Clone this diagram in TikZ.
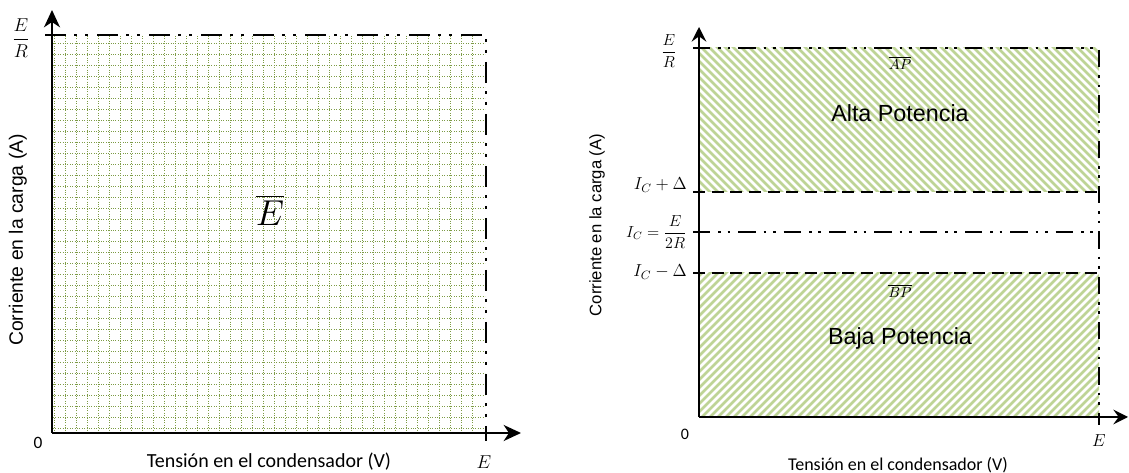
\RequirePackage{fix-cm}
\documentclass[tikz,border=0pt]{standalone}
\usepackage{amsmath}
\usepackage{fontspec}
\newfontfamily\calibri{Carlito}
\newfontfamily\arial{Liberation Sans}
\usetikzlibrary{arrows.meta}
\definecolor{gridgreen}{RGB}{125,155,70}
\definecolor{hatchgreen}{RGB}{190,212,150}
\tikzset{
  axis/.style={line width=1.7pt, -{Stealth[length=13pt,width=12pt,inset=4pt]}},
  axisR/.style={line width=1.5pt, -{Stealth[length=11pt,width=11pt,inset=4pt]}},
  ddot/.style={line width=1.8pt, dash pattern=on 16pt off 6pt on 2pt off 6pt on 2pt off 7pt},
  ddotR/.style={line width=1.6pt, dash pattern=on 13pt off 6pt on 2pt off 5pt on 2pt off 6pt},
  dashR/.style={line width=1.5pt, dash pattern=on 9pt off 5pt},
  gridln/.style={gridgreen, line width=0.7pt, dash pattern=on 0.8pt off 1.0pt},
  hatch/.style={hatchgreen, line width=2.1pt},
  lab/.style={inner sep=0pt},
}
\begin{document}
\begin{tikzpicture}[x=0.75pt,y=-0.75pt]
\useasboundingbox (0,0) rectangle (1129,473);
% ---------------- left panel ----------------
\coordinate (LO) at (52,433);
\coordinate (LY) at (52,10);
\coordinate (LX) at (521,433);
\coordinate (LTL) at (45,35);
\coordinate (LTR) at (486,35);
\coordinate (LBR) at (486,441);
% grid
\foreach \x in {54,65,...,480} \draw[gridln] (\x,36) -- (\x,432);
\foreach \y in {428,417,...,38} \draw[gridln] (53,\y) -- (485,\y);
\draw[ddot] (LTL) -- (LTR) -- (LBR);
\draw[axis] (LO) -- (LY);
\draw[axis] (LO) -- (LX);
\node[lab] (LER) at (21,38) {\fontsize{14}{16}\selectfont $\dfrac{E}{R}$};
\node[lab] (L0) at (38,443) {\calibri\fontsize{13}{15}\selectfont 0};
\node[lab] (LE) at (484,462) {\fontsize{14}{16}\selectfont $E$};
\node[lab] (LEbar) at (270,210) {\fontsize{27}{30}\selectfont $\overline{E}$};
\node[lab] (LXL) at (269,462) {\calibri\fontsize{15}{18}\selectfont Tensión en el condensador (V)};
\node[lab, rotate=90] (LYL) at (18,240) {\arial\fontsize{14.5}{17}\selectfont Corriente en la carga (A)};
% ---------------- right panel ----------------
\coordinate (RO) at (699,417);
\coordinate (RY) at (699,27);
\coordinate (RX) at (1128,417);
\coordinate (RTL) at (693,48);
\coordinate (RTR) at (1099,48);
\coordinate (RBR) at (1099,425);
\coordinate (RA1) at (693,192);
\coordinate (RA2) at (1099,192);
\coordinate (RC1) at (693,232);
\coordinate (RC2) at (1099,232);
\coordinate (RB1) at (693,273);
\coordinate (RB2) at (1099,273);
% hatching
\begin{scope}
\clip (699,48) rectangle (1099,192);
\foreach \k in {540,548,...,1100} \draw[hatch] (\k,46) -- ++(160,160);
\end{scope}
\begin{scope}
\clip (699,273) rectangle (1099,417);
\foreach \k in {540,548,...,1100} \draw[hatch] (\k,419) -- ++(160,-160);
\end{scope}
\draw[ddotR] (RTL) -- (RTR) -- (RBR);
\draw[dashR] (RA1) -- (RA2);
\draw[ddotR] (RC1) -- (RC2);
\draw[dashR] (RB1) -- (RB2);
\draw[axisR] (RO) -- (RY);
\draw[axisR] (RO) -- (RX);
\node[lab] (RER) at (669,51) {\fontsize{12}{14}\selectfont $\dfrac{E}{R}$};
\node[lab, anchor=east] (RIA) at (687,185) {\fontsize{13}{15}\selectfont $I_C+\Delta$};
\node[lab, anchor=east] (RIC) at (687,232) {\fontsize{12}{14}\selectfont $I_C=\dfrac{E}{2R}$};
\node[lab, anchor=east] (RIB) at (687,272) {\fontsize{13}{15}\selectfont $I_C-\Delta$};
\node[lab] (RAP) at (900,63) {\fontsize{11}{13}\selectfont $\overline{AP}$};
\node[lab] (RBP) at (900,291) {\fontsize{11}{13}\selectfont $\overline{BP}$};
\node[lab] (RAlta) at (900,113) {\arial\fontsize{17.5}{20}\selectfont Alta Potencia};
\node[lab] (RBaja) at (900,338) {\arial\fontsize{17.5}{20}\selectfont Baja Potencia};
\node[lab] (R0) at (685,434) {\calibri\fontsize{12}{14}\selectfont 0};
\node[lab] (RE) at (1099,441) {\fontsize{13}{15}\selectfont $E$};
\node[lab] (RXL) at (898,465) {\calibri\fontsize{13.5}{16}\selectfont Tensión en el condensador (V)};
\node[lab, rotate=90] (RYL) at (597,225) {\arial\fontsize{12.5}{15}\selectfont Corriente en la carga (A)};
\end{tikzpicture}
\end{document}
